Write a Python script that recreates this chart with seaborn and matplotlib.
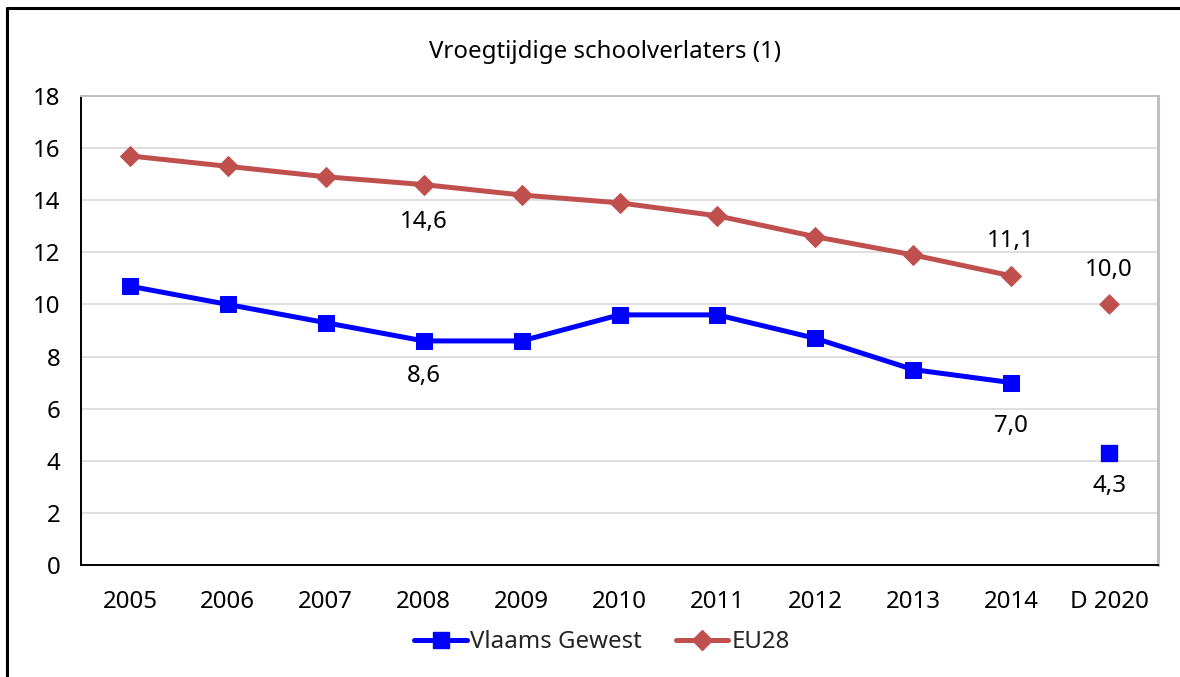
import numpy as np
import pandas as pd
import matplotlib
matplotlib.use("Agg")
import matplotlib.pyplot as plt
from matplotlib.lines import Line2D
import seaborn as sns

# Categories and series values
categories = ["2005", "2006", "2007", "2008", "2009", "2010",
              "2011", "2012", "2013", "2014", "D 2020"]
vlaams = [10.7, 10.0, 9.3, 8.6, 8.6, 9.6, 9.6, 8.7, 7.5, 7.0, 4.3]
eu28 = [15.7, 15.3, 14.9, 14.6, 14.2, 13.9, 13.4, 12.6, 11.9, 11.1, 10.0]
y_ticks = [0, 2, 4, 6, 8, 10, 12, 14, 16, 18]

# Data labels: category -> vertical offset in points (negative = below)
labels_vlaams = {"2008": -25, "2014": -31, "D 2020": -24}
labels_eu = {"2008": -27, "2014": 25, "D 2020": 25}

BLUE = "#0000FF"
RED = "#C0504D"

sns.set_theme(style="white")
plt.rcParams["font.family"] = ["Noto Sans", "DejaVu Sans"]

pos = np.arange(len(categories))
df = pd.DataFrame({"pos": pos, "cat": categories,
                   "Vlaams Gewest": vlaams, "EU28": eu28})
trend = df.iloc[:-1]
target = df.iloc[-1:]

fig = plt.figure(figsize=(11.8, 6.77), dpi=100)
ax = fig.add_axes([81 / 1180, 1 - 565 / 677, (1158 - 81) / 1180, (565 - 96) / 677])

# Gridlines
for v in y_ticks[1:]:
    ax.axhline(v, color="#D9D9D9", lw=1.2, zorder=0)

sns.lineplot(data=trend, x="pos", y="EU28", color=RED, lw=3.6,
             marker="D", markersize=9.8, markeredgecolor=RED, ax=ax, zorder=3)
sns.lineplot(data=trend, x="pos", y="Vlaams Gewest", color=BLUE, lw=3.6,
             marker="s", markersize=12, markeredgecolor=BLUE, ax=ax, zorder=4)
sns.scatterplot(data=target, x="pos", y="EU28", color=RED, marker="D",
                s=9.8 ** 2, edgecolor=RED, ax=ax, zorder=3)
sns.scatterplot(data=target, x="pos", y="Vlaams Gewest", color=BLUE, marker="s",
                s=12 ** 2, edgecolor=BLUE, ax=ax, zorder=4)

fs = 17.3
for series, lab in ((vlaams, labels_vlaams), (eu28, labels_eu)):
    for cat, off in lab.items():
        i = categories.index(cat)
        val = series[i]
        txt = f"{val:.1f}".replace(".", ",")
        ax.annotate(txt, (pos[i], val), xytext=(0, off), textcoords="offset points",
                    ha="center", va="center", fontsize=fs, color="black", zorder=5)

ax.set_xlim(-0.5, len(categories) - 0.5)
ax.set_ylim(0, 18)
ax.set_yticks(y_ticks)
ax.set_yticklabels([str(v) for v in y_ticks], fontsize=fs)
ax.set_xticks(pos)
ax.set_xticklabels(categories, fontsize=fs)
ax.set_xticks(np.arange(-0.5, len(categories)), minor=True)
ax.tick_params(axis="x", which="major", length=0, pad=18, colors="black")
ax.tick_params(axis="x", which="minor", length=7, width=1, color="#404040", direction="out")
ax.tick_params(axis="y", which="major", length=7, width=1, color="#404040",
               direction="out", pad=8, labelcolor="black")
ax.set_xlabel("")
ax.set_ylabel("")

for side in ("left", "bottom"):
    ax.spines[side].set_color("black")
    ax.spines[side].set_linewidth(1.4)
ax.spines["top"].set_color("#C0C0C0")
ax.spines["top"].set_linewidth(1.4)
ax.spines["right"].set_color("#C0C0C0")
ax.spines["right"].set_linewidth(2.2)

fig.text(605 / 1180, 1 - 52 / 677, "Vroegtijdige schoolverlaters (1)",
         ha="center", va="center", fontsize=fs, color="black")

handles = [
    Line2D([], [], color=BLUE, lw=3.6, marker="s", markersize=12, markeredgecolor=BLUE),
    Line2D([], [], color=RED, lw=3.6, marker="D", markersize=9.8, markeredgecolor=RED),
]
fig.legend(handles, ["Vlaams Gewest", "EU28"], loc="center",
           bbox_to_anchor=(602 / 1180, 1 - 642 / 677), ncol=2, frameon=False,
           fontsize=fs, handlelength=2.2, handletextpad=0.12, columnspacing=1.4)

# Outer chart frame (top and left edges visible)
fig.add_artist(Line2D([7 / 1180, 7 / 1180], [0, 1 - 8 / 677], transform=fig.transFigure,
                      color="black", lw=2.2))
fig.add_artist(Line2D([7 / 1180, 1], [1 - 8 / 677, 1 - 8 / 677], transform=fig.transFigure,
                      color="black", lw=2.2))

fig.savefig("out.png", dpi=100)
